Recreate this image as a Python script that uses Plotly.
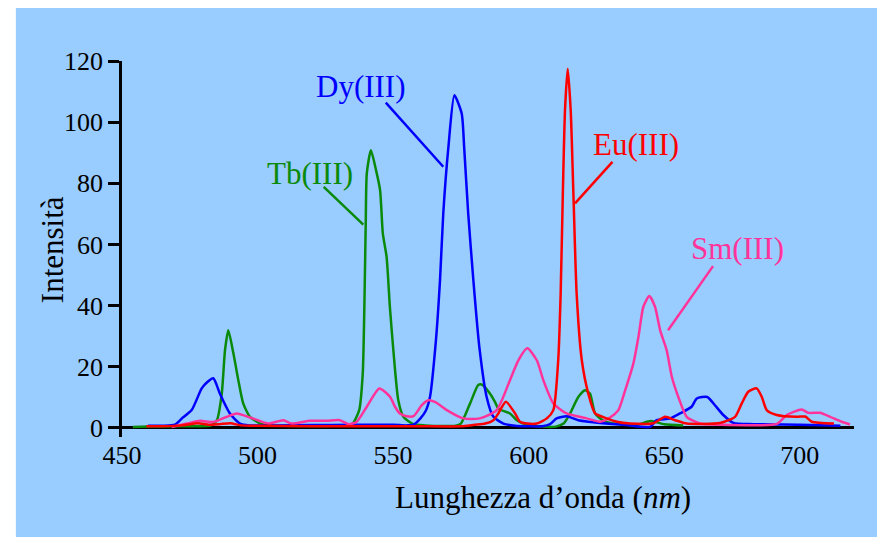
import plotly.graph_objects as go

# Tb(III) - green
tb_x = [454, 460, 470, 478, 483, 485, 486.8, 488, 489.2, 491.1, 492.9, 494.7, 497.2, 501, 505, 515, 525, 532,
        535, 537.5, 538.8, 539.4, 539.9, 540.3, 541.8, 543.7, 545.2, 546.2, 547.6, 548.8, 550.3, 551.9, 553.8,
        557.5, 562, 568, 573, 575, 578.4, 581.4, 582.9, 585.7, 587.5, 588.8, 593.1, 595.6, 599.3, 605, 610,
        613, 615.3, 618.3, 620.8, 622.6, 624.5, 627.6, 632, 640, 645, 650, 657]
tb_y = [0.3, 0.4, 0.5, 0.5, 0.8, 2.5, 11.2, 25.4, 31.9, 24.3, 15.6, 8, 3.6, 1.4, 0.8, 0.6, 0.6, 0.8,
        1.3, 5.8, 17.8, 39.6, 66.8, 83.2, 90.8, 84.3, 77.7, 63.6, 55.9, 39.6, 23.2, 9.1, 3.6,
        1.2, 0.8, 0.6, 0.7, 1.4, 8, 14, 14.1, 11.2, 8.6, 6.3, 4.7, 2.5, 1.0, 0.4, 0.4,
        1.5, 4.7, 10.1, 12.3, 11.2, 4.7, 2.3, 1.3, 1.0, 2.2, 1.2, 0.8]

# Dy(III) - blue
dy_x = [459.6, 465, 469.5, 472, 475.7, 479.4, 481.5, 483.7, 486.1, 489.8, 493.5, 497, 505, 520, 535, 550,
        555, 557.5, 560, 562, 563.6, 565.8, 567.3, 568.5, 570.4, 572.6, 575.3, 576.2, 577.7, 579.6, 581.8,
        584.5, 587, 590.7, 595, 600, 605, 607.9, 610.3, 614, 618.3, 622, 626.3, 635, 644.8, 647.2, 652,
        655.8, 660.1, 662, 665.9, 668.7, 671.8, 675.5, 683, 700, 715]
dy_y = [0.7, 0.7, 1, 3, 5.8, 12.9, 15, 16.2, 11.2, 4.7, 1.4, 0.8, 0.8, 0.9, 1, 1,
        0.8, 1, 3, 5.5, 10.1, 28.7, 48.3, 70.1, 91.9, 108.8, 102.8, 91.9, 70.1, 48.3, 26.5,
        10.1, 3.6, 1.4, 0.7, 0.5, 0.5, 1.2, 3.1, 3.8, 2.5, 2.0, 1.6, 1.0, 0.3, 2.5, 3,
        4.7, 6.9, 9.6, 10.1, 7.4, 4.2, 1.6, 1.2, 1.0, 0.7]

# Sm(III) - pink
sm_x = [468.3, 473.9, 478.8, 483.7, 488.6, 492.3, 497.2, 504, 509.5, 512.5, 519.3, 525.5, 530.4, 533.5,
        536.5, 540.3, 544.9, 548.9, 550.7, 552.5, 555, 557.5, 560.6, 563, 565.6, 569.8, 575.9, 582, 588.2,
        593.1, 596.2, 599.5, 603, 605.4, 609.1, 614, 621.4, 626.3, 630, 633.1, 635.5, 638.6, 640.5, 642.3,
        644.5, 646.6, 648.5, 650.9, 652.8, 655.2, 658.3, 663.2, 670, 691.5, 695.2, 700.7, 703.2, 707.5,
        711.2, 715.5, 718.5]
sm_y = [0.3, 1.4, 2.3, 1.9, 3.6, 4.7, 3.4, 1.4, 2.5, 1.4, 2.3, 2.3, 2.5, 1.2,
        1.9, 6.9, 12.9, 10.1, 6.9, 4.7, 3.8, 3.8, 7.4, 9, 8.4, 5.8, 3.1, 3.1, 5.8,
        15.6, 22.1, 26, 22.1, 15.6, 8, 4.7, 3.1, 2, 3.4, 5.8, 12, 21, 29.8, 39.6,
        43.1, 39.6, 31.9, 25.4, 16.7, 10.1, 3.6, 1.4, 1, 1.3, 4.2, 6, 4.9, 4.9,
        3.6, 2, 1.1]

# Eu(III) - red
eu_x = [459, 465, 472, 478, 482, 486, 490, 494, 500, 520, 540, 560, 575, 580, 584, 587, 588.8, 591.6,
        595, 596.8, 599.6, 603, 606.7, 609.1, 610.9, 611.8, 612.6, 613.4, 614.4, 615.5, 616.5, 617.7,
        619.6, 622, 624.5, 628.8, 632.5, 637.4, 646, 650.3, 654, 658.3, 670.6, 676.1, 678.6, 681, 684.1,
        686, 687.8, 691.5, 698.9, 702, 704.4, 712.6]
eu_y = [0.5, 0.5, 0.8, 1.5, 1.0, 1.2, 1.5, 0.8, 0.7, 0.5, 0.5, 0.5, 0.5, 1.0, 1.4, 2.5, 4.7, 8.5,
        4.7, 2, 1.4, 1.4, 3.1, 5.8, 22.1, 43.9, 76.7, 103.9, 117.5, 103.9, 76.7, 43.9,
        22.1, 11.2, 4.7, 3.1, 2, 1.4, 1.5, 3.6, 2.5, 1.4, 1.6, 3.6, 8, 11.8, 12.9,
        10.1, 5.8, 4.2, 3.6, 3.7, 2, 1.4]

x_ticks = [450, 500, 550, 600, 650, 700]
y_ticks = [0, 20, 40, 60, 80, 100, 120]

labels = ["Tb(III)", "Dy(III)", "Eu(III)", "Sm(III)"]
label_pos = [(519.3, 83.3), (538.2, 111.7), (639.6, 92.8), (676.9, 58.8)]
leader_lines = [((524.4, 78.8), (539.0, 66.5)), ((547.3, 106.4), (568.5, 85.4)),
                ((630.9, 87.0), (617.1, 73.4)), ((668.0, 52.9), (651.4, 31.9))]

GREEN = "#0A8A0A"
BLUE = "#0000FF"
RED = "#FF0000"
PINK = "#FF3399"
colors = [GREEN, BLUE, RED, PINK]
BG = "#99CCFF"
FONT = "Liberation Serif"

fig = go.Figure()
for xs, ys, c, n in [(tb_x, tb_y, GREEN, "Tb(III)"), (dy_x, dy_y, BLUE, "Dy(III)"),
                     (sm_x, sm_y, PINK, "Sm(III)"), (eu_x, eu_y, RED, "Eu(III)")]:
    fig.add_trace(go.Scatter(x=xs, y=ys, mode="lines", name=n,
                             line=dict(color=c, width=2.5, shape="spline", smoothing=0.6)))

# Page body has an 8px margin, so figure margins are reduced by 8 to land at the reference positions
shapes = [dict(type="rect", xref="paper", yref="paper", x0=-0.145, x1=1.08, y0=-0.32, y1=1.149,
               fillcolor=BG, line=dict(width=0), layer="below")]
for (p0, p1), c in zip(leader_lines, colors):
    shapes.append(dict(type="line", xref="x", yref="y", x0=p0[0], y0=p0[1], x1=p1[0], y1=p1[1],
                       line=dict(color=c, width=2.5)))

annotations = []
for t, (ax_, ay_), c in zip(labels, label_pos, colors):
    annotations.append(dict(x=ax_, y=ay_, xref="x", yref="y", text=t, showarrow=False,
                            xanchor="center", yanchor="middle",
                            font=dict(family=FONT, size=31, color=c)))
annotations.append(dict(x=0.575, y=-0.161, xref="paper", yref="paper",
                        text="Lunghezza d\u2019onda (<i>nm</i>)", showarrow=False,
                        xanchor="center", yanchor="middle",
                        font=dict(family=FONT, size=31, color="black")))
annotations.append(dict(x=-0.0956, y=0.497, xref="paper", yref="paper",
                        text="Intensità", showarrow=False, textangle=-90,
                        xanchor="center", yanchor="middle",
                        font=dict(family=FONT, size=31, color="black")))

fig.update_layout(
    width=885, height=537,
    margin=dict(l=114, r=39, t=53, b=108),
    paper_bgcolor="white", plot_bgcolor="rgba(0,0,0,0)",
    showlegend=False,
    font=dict(family=FONT, color="black"),
    shapes=shapes, annotations=annotations,
    xaxis=dict(range=[450, 720], tickvals=x_ticks, ticks="", showgrid=False, zeroline=False,
               showline=False, automargin=False, tickfont=dict(size=26, family=FONT)),
    yaxis=dict(range=[-3, 120], tickvals=y_ticks, ticks="outside", ticklen=11, tickwidth=2.5,
               tickcolor="black", showline=True, linecolor="black", linewidth=2.5,
               showgrid=False, zeroline=True, zerolinecolor="black", zerolinewidth=3,
               automargin=False, tickfont=dict(size=26, family=FONT)),
)

fig.write_html("out.html")
